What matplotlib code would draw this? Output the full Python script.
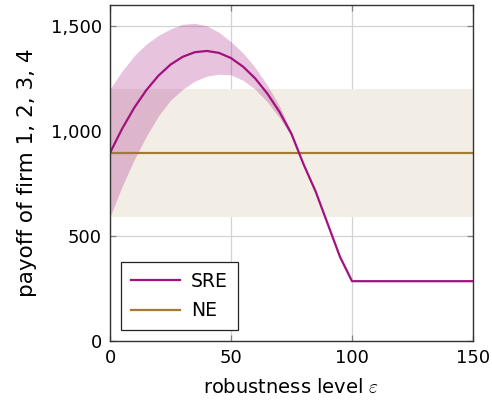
import matplotlib.pyplot as plt

# robustness levels and payoffs
eps = [0, 5, 10, 15, 20, 25, 30, 35, 40, 45, 50, 55, 60, 65, 70, 75,
       80, 85, 90, 95, 100, 105, 110, 115, 120, 125, 130, 135, 140, 145, 150]
sre = [895, 1010, 1110, 1194, 1263, 1316, 1353, 1375, 1381, 1372, 1347, 1306,
       1250, 1178, 1091, 985, 840, 710, 555, 400, 283, 283, 283, 283, 283,
       283, 283, 283, 283, 283, 283]
sre_hi = [1200, 1285, 1358, 1414, 1455, 1486, 1508, 1513, 1501, 1470, 1425, 1371,
          1302, 1218, 1119, 995, 840, 710, 555, 400, 283, 283, 283, 283, 283,
          283, 283, 283, 283, 283, 283]
sre_lo = [590, 735, 862, 974, 1071, 1146, 1198, 1237, 1261, 1270, 1267, 1241,
          1198, 1138, 1063, 975, 840, 710, 555, 400, 283, 283, 283, 283, 283,
          283, 283, 283, 283, 283, 283]
ne = 895
ne_lo, ne_hi = 590, 1200

c_sre = '#a2117e'
c_ne = '#a27a34'

plt.rcParams['font.family'] = ['DejaVu Sans']
plt.rcParams['mathtext.fontset'] = 'cm'

fig = plt.figure(figsize=(4.92, 4.03), dpi=100)
ax = fig.add_axes([0.2236, 0.1550, 0.7378, 0.8325])

ax.axhspan(ne_lo, ne_hi, color='#f2eee6', lw=0, zorder=1)
ax.fill_between(eps, sre_lo, sre_hi, color=c_sre, alpha=0.25, lw=0, zorder=2)
ax.plot(eps, sre, color=c_sre, lw=1.6, label='SRE', zorder=4)
ax.plot([eps[0], eps[-1]], [ne, ne], color=c_ne, lw=1.6, label='NE', zorder=3)

ax.set_xlim(0, 150)
ax.set_ylim(0, 1600)
ax.set_xticks([0, 50, 100, 150])
ax.set_yticks([0, 500, 1000, 1500])
ax.set_yticklabels(['0', '500', '1,000', '1,500'])
ax.grid(True, color='#d3d3d3', lw=0.9, zorder=0)
ax.set_axisbelow(True)
ax.tick_params(direction='in', length=4, width=0.9, color='#808080',
               labelsize=13, top=True, right=True, pad=6)
for s in ax.spines.values():
    s.set_linewidth(1.0)
    s.set_color('#333333')
    s.set_zorder(5)

ax.set_xlabel(r'robustness level $\varepsilon$', fontsize=14, labelpad=8)
ax.set_ylabel('payoff of firm 1, 2, 3, 4', fontsize=15.5, labelpad=10)

leg = ax.legend(loc='lower left', bbox_to_anchor=(0.03, 0.03), borderaxespad=0,
                fontsize=13.5, fancybox=False, edgecolor='#222222', framealpha=1,
                handlelength=2.6, borderpad=0.55, labelspacing=0.55,
                handletextpad=0.6)
leg.get_frame().set_linewidth(0.9)

fig.savefig('out.png', dpi=100)
